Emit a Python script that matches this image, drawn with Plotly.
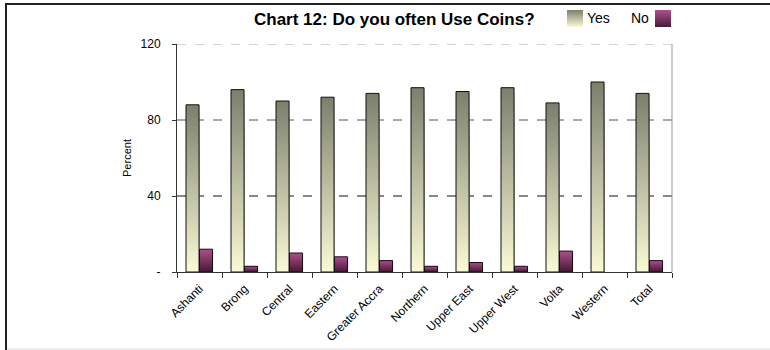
import plotly.graph_objects as go

# Survey results: share of respondents who often use coins, by region
regions = ["Ashanti", "Brong", "Central", "Eastern", "Greater Accra", "Northern",
           "Upper East", "Upper West", "Volta", "Western", "Total"]
yes_pct = [88, 96, 90, 92, 94, 97, 95, 97, 89, 100, 94]
no_pct = [12, 3, 10, 8, 6, 3, 5, 3, 11, 0, 6]
y_ticks = [0, 40, 80, 120]
y_tick_text = ["-", "40", "80", "120"]

FONT = "Liberation Sans, Arial, sans-serif"
W, H = 770, 350
L, R, T, B = 177, 98, 44, 78
BAR_W = 0.29
N_STEPS = 60


def mix(c1, c2, t):
    c = [round(a + (b - a) * t) for a, b in zip(c1, c2)]
    return "rgb(%d,%d,%d)" % tuple(c)


YES_TOP, YES_BOTTOM = (124, 127, 108), (250, 250, 214)
NO_TOP, NO_BOTTOM = (172, 82, 140), (74, 24, 56)

fig = go.Figure()


def gradient_bars(values, offset, top, bottom):
    # nested bars from tallest to shortest, each coloured for its top band,
    # so the colour runs smoothly from the bottom to the top of each bar
    for k in range(N_STEPS, 0, -1):
        frac = k / N_STEPS
        t = (k - 0.5) / N_STEPS
        fig.add_trace(go.Bar(
            x=regions, y=[v * frac for v in values],
            offset=offset, width=BAR_W,
            marker=dict(color=mix(bottom, top, t), line=dict(width=0)),
            showlegend=False, hoverinfo="skip"))
    # outline on top of the fill
    fig.add_trace(go.Bar(
        x=regions, y=values, offset=offset, width=BAR_W,
        marker=dict(color="rgba(0,0,0,0)",
                    line=dict(color="#111111", width=[1 if v > 0 else 0 for v in values])),
        showlegend=False, hoverinfo="skip"))


gradient_bars(yes_pct, -0.30, YES_TOP, YES_BOTTOM)
gradient_bars(no_pct, 0.0, NO_TOP, NO_BOTTOM)


def px(x):
    return (x - L) / (W - L - R)


def py(y):
    return (H - B - y) / (H - T - B)


shapes = []
# dashed gridlines
grid_style = {40: ("#111111", "dash"), 80: ("#555555", "dash"), 120: ("#aaaaaa", "dash")}
for v in y_ticks[1:]:
    col, dash = grid_style[v]
    shapes.append(dict(type="line", xref="paper", yref="y", x0=0, x1=1, y0=v, y1=v,
                       line=dict(color=col, width=1, dash=dash), layer="below"))
# right edge of the plot area
shapes.append(dict(type="line", xref="paper", yref="paper", x0=1, x1=1, y0=0, y1=1,
                   line=dict(color="#999999", width=1)))
# outer frame
shapes.append(dict(type="line", xref="paper", yref="paper", x0=px(6), x1=px(6),
                   y0=py(3), y1=py(350), line=dict(color="#222222", width=2)))
shapes.append(dict(type="line", xref="paper", yref="paper", x0=px(5), x1=px(770),
                   y0=py(4), y1=py(4), line=dict(color="#222222", width=2)))
shapes.append(dict(type="line", xref="paper", yref="paper", x0=px(7), x1=px(770),
                   y0=py(349), y1=py(349), line=dict(color="#dddddd", width=1)))


def swatch(x0, top, bottom):
    # legend key: nested rectangles give a vertical gradient
    n = 17
    for k in range(n, 0, -1):
        shapes.append(dict(type="rect", xref="paper", yref="paper",
                           x0=px(x0), x1=px(x0 + 16), y0=py(27), y1=py(27 - 17 * k / n),
                           fillcolor=mix(bottom, top, (k - 0.5) / n), line=dict(width=0)))


swatch(567, YES_TOP, YES_BOTTOM)
swatch(655, NO_TOP, NO_BOTTOM)

annotations = [
    dict(text="<b>Chart 12: Do you often Use Coins?</b>", xref="paper", yref="paper",
         x=px(394), y=py(19), xanchor="center", yanchor="middle", showarrow=False,
         font=dict(size=17, color="#000000", family=FONT)),
    dict(text="Yes", xref="paper", yref="paper", x=px(585), y=py(18), xanchor="left",
         yanchor="middle", showarrow=False, font=dict(size=14, color="#000000", family=FONT)),
    dict(text="No", xref="paper", yref="paper", x=px(651), y=py(18), xanchor="right",
         yanchor="middle", showarrow=False, font=dict(size=14, color="#000000", family=FONT)),
]

fig.update_layout(
    width=W, height=H,
    margin=dict(l=L, r=R, t=T, b=B, pad=0, autoexpand=False),
    paper_bgcolor="white", plot_bgcolor="white",
    barmode="overlay", showlegend=False,
    font=dict(family=FONT, size=12, color="#000000"),
    shapes=shapes, annotations=annotations,
    xaxis=dict(
        type="category", tickson="boundaries", ticks="outside", ticklen=5,
        tickcolor="#333333", showline=True, linecolor="#333333", linewidth=1,
        tickangle=-45, tickfont=dict(size=12), showgrid=False, range=[-0.5, 10.5],
        ticklabelstandoff=4, automargin=False,
    ),
    yaxis=dict(
        range=[0, 120], tickvals=y_ticks, ticktext=y_tick_text,
        ticks="outside", ticklen=4, tickcolor="#333333",
        showline=True, linecolor="#333333", linewidth=1, showgrid=False,
        zeroline=False, tickfont=dict(size=12), ticklabelstandoff=9,
        title=dict(text="Percent", font=dict(size=11), standoff=6),
        automargin=False,
    ),
)

fig.write_html("out.html")
